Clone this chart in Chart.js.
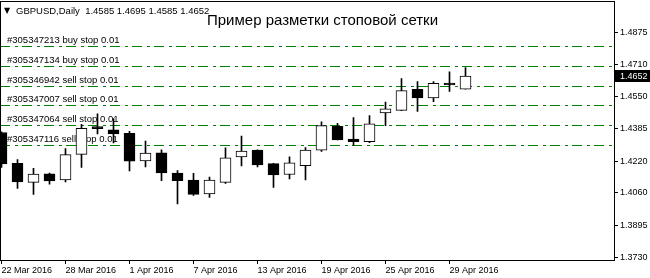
<!DOCTYPE html>
<html>
<head>
<meta charset="utf-8">
<script src="https://cdn.jsdelivr.net/npm/chart.js@4.4.0/dist/chart.umd.min.js"></script>
<style>
  html, body { margin: 0; padding: 0; background: #fff; }
  #wrap { width: 650px; height: 278px; }
</style>
</head>
<body>
<div id="wrap"><canvas id="graficoGbp"></canvas></div>
<script>
// свечи GBPUSD, D1
var dias = ['22 Mar 2016', '23 Mar 2016', '24 Mar 2016', '25 Mar 2016', '28 Mar 2016', '29 Mar 2016',
    '30 Mar 2016', '31 Mar 2016', '1 Apr 2016', '4 Apr 2016', '5 Apr 2016', '6 Apr 2016', '7 Apr 2016',
    '8 Apr 2016', '11 Apr 2016', '12 Apr 2016', '13 Apr 2016', '14 Apr 2016', '15 Apr 2016', '18 Apr 2016',
    '19 Apr 2016', '20 Apr 2016', '21 Apr 2016', '22 Apr 2016', '25 Apr 2016', '26 Apr 2016', '27 Apr 2016',
    '28 Apr 2016', '29 Apr 2016', '2 May 2016'];
var abertura = [1.4365, 1.4208, 1.4112, 1.4155, 1.4125, 1.4254, 1.4385, 1.4378, 1.4361, 1.4221,
    1.4262, 1.4159, 1.4124, 1.4053, 1.4112, 1.4241, 1.4276, 1.4207, 1.4152, 1.4197,
    1.4276, 1.4396, 1.4332, 1.4318, 1.4464, 1.4477, 1.4584, 1.4541, 1.4606, 1.4585];
var maxima = [1.4368, 1.4228, 1.4183, 1.4159, 1.4284, 1.4407, 1.4460, 1.4436, 1.4371, 1.4322,
    1.4277, 1.4172, 1.4158, 1.4139, 1.4287, 1.4347, 1.4277, 1.4208, 1.4241, 1.4289,
    1.4419, 1.4411, 1.4441, 1.4451, 1.4520, 1.4639, 1.4624, 1.4624, 1.4673, 1.4695];
var minima = [1.4188, 1.4081, 1.4051, 1.4103, 1.4114, 1.4188, 1.4358, 1.4312, 1.4170, 1.4190,
    1.4120, 1.4002, 1.4046, 1.4036, 1.4106, 1.4195, 1.4190, 1.4086, 1.4130, 1.4125,
    1.4269, 1.4327, 1.4299, 1.4313, 1.4400, 1.4476, 1.4472, 1.4521, 1.4574, 1.4585];
var fechamento = [1.4205, 1.4114, 1.4154, 1.4119, 1.4253, 1.4386, 1.4385, 1.4358, 1.4219, 1.4261,
    1.4160, 1.4120, 1.4051, 1.4124, 1.4236, 1.4271, 1.4200, 1.4150, 1.4211, 1.4276,
    1.4400, 1.4328, 1.4318, 1.4409, 1.4485, 1.4578, 1.4541, 1.4614, 1.4606, 1.4652];

// метки осей
var ticksX = [0, 4, 8, 12, 16, 20, 24, 28];
var ticksY = [1.4875, 1.4710, 1.4550, 1.4385, 1.4220, 1.4060, 1.3895, 1.3730];

// отложенные ордера (сетка)
var ordemPrecos = [1.4800, 1.4700, 1.4600, 1.4500, 1.4400, 1.4300];
var ordemTextos = ['#305347213 buy stop 0.01', '#305347134 buy stop 0.01', '#305346942 sell stop 0.01',
    '#305347007 sell stop 0.01', '#305347064 sell stop 0.01', '#305347116 sell stop 0.01'];

var titulo = 'Пример разметки стоповой сетки';
var cabecalho = 'GBPUSD,Daily  1.4585 1.4695 1.4585 1.4652';

var fonte = '"Liberation Sans", Arial, sans-serif';

var corpos = dias.map(function (d, i) {
    return { x: i, y: [abertura[i], fechamento[i]] };
});
var sombras = dias.map(function (d, i) {
    return { x: i, y: [minima[i], maxima[i]] };
});
var coresCorpo = dias.map(function (d, i) {
    return fechamento[i] > abertura[i] ? '#ffffff' : '#000000';
});

var extras = {
    id: 'extras',
    beforeDatasetsDraw: function (chart) {
        var ctx = chart.ctx;
        var area = chart.chartArea;
        var escalaY = chart.scales.y;
        ctx.save();
        ctx.beginPath();
        ctx.rect(area.left, area.top, area.right - area.left, area.bottom - area.top);
        ctx.clip();
        ctx.strokeStyle = '#008000';
        ctx.lineWidth = 1;
        ctx.setLineDash([10, 5, 3, 4]);
        ctx.font = '9.5px ' + fonte;
        ctx.fillStyle = '#000';
        ctx.textAlign = 'left';
        ctx.textBaseline = 'alphabetic';
        ordemPrecos.forEach(function (p, i) {
            var py = Math.floor(escalaY.getPixelForValue(p)) + 0.5;
            ctx.beginPath();
            ctx.moveTo(area.left, py);
            ctx.lineTo(area.right, py);
            ctx.stroke();
            ctx.fillText(ordemTextos[i], 7, py - 4);
        });
        ctx.restore();
    },
    afterDraw: function (chart) {
        var ctx = chart.ctx;
        var area = chart.chartArea;
        var escalaY = chart.scales.y;
        ctx.save();
        // рамка
        ctx.strokeStyle = '#000';
        ctx.lineWidth = 1;
        ctx.strokeRect(0.5, 1.5, area.right, area.bottom - 1);

        // заголовок графика
        ctx.fillStyle = '#000';
        ctx.textAlign = 'left';
        ctx.textBaseline = 'alphabetic';
        ctx.font = '8px "DejaVu Sans"';
        ctx.fillText('▼', 4, 13);
        ctx.font = '9.5px ' + fonte;
        ctx.fillText(cabecalho, 16, 14);

        // текстовый объект
        ctx.font = '15px ' + fonte;
        ctx.fillText(titulo, 207, 25);

        // текущая цена
        var ultimo = fechamento[fechamento.length - 1];
        var py = Math.round(escalaY.getPixelForValue(ultimo));
        ctx.fillStyle = '#000';
        ctx.fillRect(area.right + 1, py - 6, 36, 12);
        ctx.fillStyle = '#fff';
        ctx.font = '9px ' + fonte;
        ctx.textBaseline = 'middle';
        ctx.fillText(ultimo.toFixed(4), 620, py + 0.5);
        ctx.restore();
    }
};

var ctx = document.getElementById('graficoGbp').getContext('2d');
var graficoGbp = new Chart(ctx, {
    type: 'bar',
    data: {
        datasets: [{
            label: 'corpo',
            data: corpos,
            backgroundColor: coresCorpo,
            borderColor: '#000',
            borderWidth: 1,
            borderSkipped: false,
            barThickness: 11,
            minBarLength: 2,
            grouped: false
        }, {
            label: 'sombra',
            data: sombras,
            backgroundColor: '#000',
            borderWidth: 0,
            barThickness: 1,
            grouped: false
        }]
    },
    options: {
        responsive: true,
        maintainAspectRatio: false,
        animation: false,
        events: [],
        layout: { padding: { top: 1, left: 0, right: 0, bottom: 0 } },
        plugins: {
            legend: { display: false },
            tooltip: { enabled: false }
        },
        scales: {
            x: {
                type: 'linear',
                offset: false,
                min: -1.5 / 16,
                max: (614 - 1.5) / 16,
                afterBuildTicks: function (scale) {
                    scale.ticks = ticksX.map(function (v) { return { value: v }; });
                },
                afterFit: function (scale) { scale.height = 18; },
                grid: {
                    offset: false,
                    drawOnChartArea: false,
                    drawTicks: true,
                    tickLength: 4,
                    color: '#000'
                },
                border: { display: true, color: '#000' },
                ticks: {
                    autoSkip: false,
                    maxRotation: 0,
                    align: 'start',
                    padding: 1,
                    color: '#000',
                    font: { family: fonte, size: 9 },
                    callback: function (value) {
                        return dias[value];
                    }
                }
            },
            y: {
                position: 'right',
                beginAtZero: false,
                min: 1.5 - 259 * 0.000495,
                max: 1.5,
                afterBuildTicks: function (scale) {
                    scale.ticks = ticksY.map(function (v) { return { value: v }; });
                },
                afterFit: function (scale) { scale.width = 36; },
                grid: {
                    drawOnChartArea: false,
                    drawTicks: true,
                    tickLength: 4,
                    color: '#000'
                },
                border: { display: true, color: '#000' },
                ticks: {
                    padding: 2,
                    color: '#000',
                    font: { family: fonte, size: 9 },
                    callback: function (value) {
                        return value.toFixed(4);
                    }
                }
            }
        }
    },
    plugins: [extras]
});
</script>
</body>
</html>
